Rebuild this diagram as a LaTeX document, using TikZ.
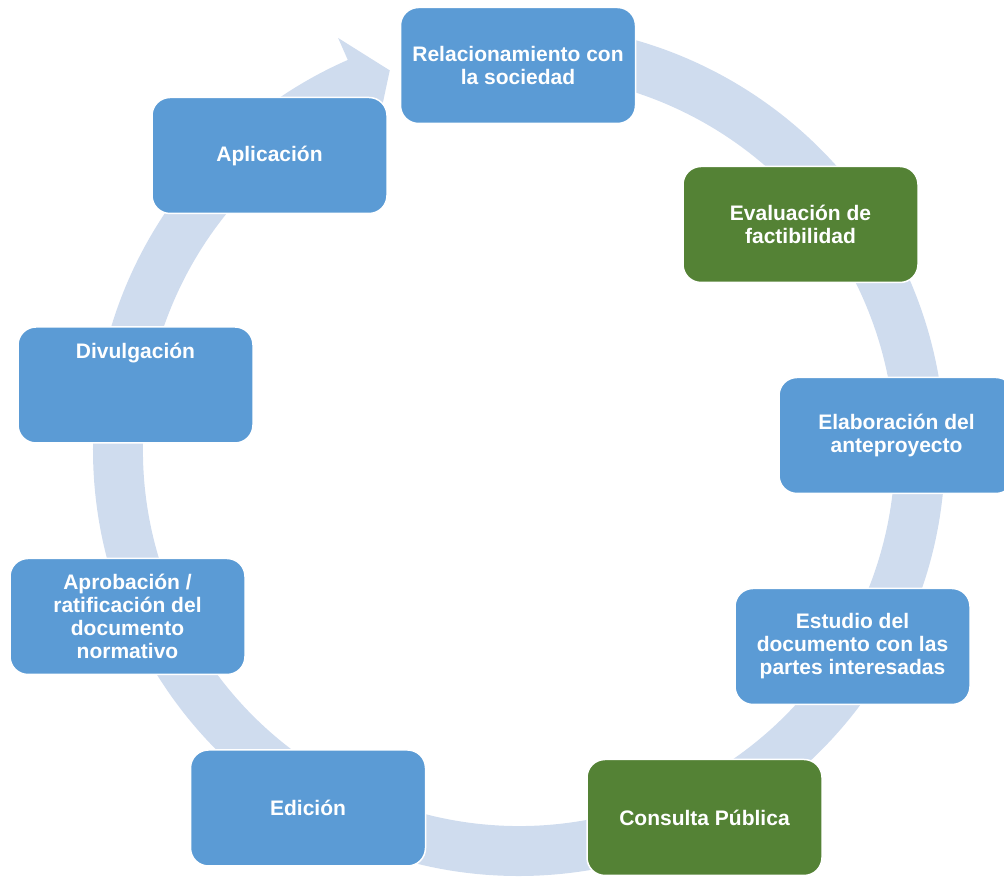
\documentclass[tikz,border=0pt]{standalone}
\usepackage{fontspec}
\setmainfont{Liberation Sans}
\definecolor{boxblue}{RGB}{91,155,213}
\definecolor{boxgreen}{RGB}{84,130,53}
\definecolor{ringblue}{RGB}{207,220,238}

\begin{document}
\begin{tikzpicture}[x=1pt, y=1pt,
  stage/.style={draw=white, line width=1.5pt, fill=boxblue, rounded corners=18pt,
    minimum width=235pt, minimum height=116pt, inner sep=2pt, text=white,
    align=center, font=\fontsize{21}{23}\selectfont\bfseries},
  keystage/.style={stage, fill=boxgreen}]

\useasboundingbox (0,0) rectangle (1004,877);

\fill[ringblue, shift={(519,427)}] (95:426pt) arc[start angle=95, end angle=-246.3, radius=426pt]
  -- (-246.3:450pt) -- (-251.2:401pt) -- (-246.3:352pt) -- (-246.3:376pt)
  arc[start angle=-246.3, end angle=95, radius=376pt] -- cycle;

\node[stage] (v1) at (518,811.5) {Relacionamiento con\\la sociedad};
\node[keystage] (v2) at (800.5,652.5) {Evaluación de\\factibilidad};
\node[stage] (v3) at (896.5,441.5) {Elaboración del\\anteproyecto};
\node[stage] (v4) at (852.5,230.5) {Estudio del\\documento con las\\partes interesadas};
\node[keystage] (v5) at (704.5,59.5) {Consulta Pública};
\node[stage] (v6) at (308,69) {Edición};
\node[stage] (v7) at (127.5,260.5) {Aprobación /\\ratificación del\\documento\\normativo};
\node[stage] (v8) at (135.5,492) {Divulgación\\~\\~\\~};
\node[stage] (v9) at (269.5,721.5) {Aplicación};
\end{tikzpicture}
\end{document}
